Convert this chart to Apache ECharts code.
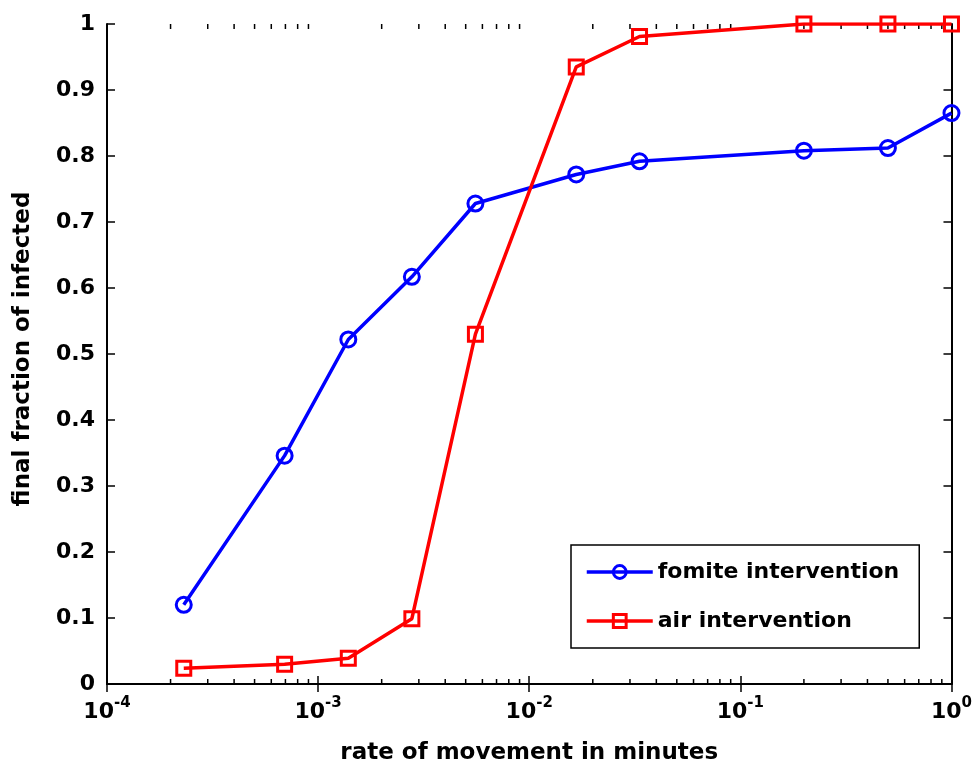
<!DOCTYPE html>
<html>
<head>
<meta charset="utf-8">
<script src="https://cdn.jsdelivr.net/npm/echarts@6/dist/echarts.min.js"></script>
<style>
  html, body { margin: 0; padding: 0; background: #fff; }
  #chart { width: 975px; height: 770px; }
</style>
</head>
<body>
<div id="chart"></div>
<script>
// rate of movement (per minute), log scale
const rates = [0.000231, 0.000694, 0.00139, 0.00278, 0.00556, 0.0167, 0.0333, 0.2, 0.5, 1];
const fomite = [0.12, 0.346, 0.522, 0.617, 0.728, 0.772, 0.792, 0.808, 0.812, 0.865];
const air = [0.024, 0.030, 0.039, 0.099, 0.530, 0.935, 0.981, 1.0, 1.0, 1.0];
const seriesNames = ["fomite intervention", "air intervention"];
const minorTicks = [
  0.0002, 0.0003, 0.0004, 0.0005, 0.0006, 0.0007, 0.0008, 0.0009,
  0.002, 0.003, 0.004, 0.005, 0.006, 0.007, 0.008, 0.009,
  0.02, 0.03, 0.04, 0.05, 0.06, 0.07, 0.08, 0.09,
  0.2, 0.3, 0.4, 0.5, 0.6, 0.7, 0.8, 0.9
];

const font = "'DejaVu Sans', Arial, sans-serif";

const pairs = (ys) => rates.map((x, i) => [x, ys[i]]);

const chart = echarts.init(document.getElementById("chart"));

const xLabel = {
  fontFamily: font,
  fontWeight: "bold",
  color: "#000",
  margin: 12,
  formatter: (v) => "{b|10}{s|" + Math.round(Math.log10(v)) + "}",
  rich: {
    b: { fontSize: 22, fontWeight: "bold", fontFamily: font, color: "#000", verticalAlign: "bottom" },
    s: { fontSize: 15, fontWeight: "bold", fontFamily: font, color: "#000", verticalAlign: "top", padding: [0, 0, 12, 0] }
  }
};

const frameAxis = {
  axisLine: { lineStyle: { color: "#000", width: 2 } },
  axisTick: { inside: true, length: 8, lineStyle: { color: "#000", width: 1.5 } },
  splitLine: { show: false }
};

chart.setOption({
  animation: false,
  backgroundColor: "#fff",
  grid: { left: 107, right: 22, top: 24, bottom: 82, containLabel: false },
  legend: {
    orient: "vertical",
    left: 571,
    top: 545,
    padding: [16, 20, 16, 14],
    itemWidth: 66,
    itemHeight: 16,
    itemGap: 27,
    backgroundColor: "#fff",
    borderColor: "#000",
    borderWidth: 1.5,
    lineStyle: { width: 3.5 },
    itemStyle: { borderWidth: 3 },
    textStyle: { fontFamily: font, fontWeight: "bold", fontSize: 22, color: "#000" },
    data: seriesNames
  },
  xAxis: [
    Object.assign({
      type: "log",
      logBase: 10,
      min: 0.0001,
      max: 1,
      name: "rate of movement in minutes",
      nameLocation: "middle",
      nameGap: 58,
      nameTextStyle: { fontFamily: font, fontWeight: "bold", fontSize: 23, color: "#000" },
      axisLabel: xLabel
    }, frameAxis),
    Object.assign({
      type: "log",
      logBase: 10,
      min: 0.0001,
      max: 1,
      position: "top",
      axisLabel: { show: false }
    }, frameAxis)
  ],
  yAxis: [
    Object.assign({
      type: "value",
      min: 0,
      max: 1,
      interval: 0.1,
      name: "final fraction of infected",
      nameLocation: "middle",
      nameGap: 72,
      nameTextStyle: { fontFamily: font, fontWeight: "bold", fontSize: 23, color: "#000", padding: [0, 0, 0, 10] },
      axisLabel: {
        fontFamily: font,
        fontWeight: "bold",
        fontSize: 22,
        color: "#000",
        margin: 12,
        formatter: (v) => String(Math.round(v * 10) / 10)
      }
    }, frameAxis),
    Object.assign({
      type: "value",
      min: 0,
      max: 1,
      interval: 0.1,
      position: "right",
      axisLabel: { show: false }
    }, frameAxis)
  ],
  series: [
    {
      name: seriesNames[0],
      type: "line",
      data: pairs(fomite),
      symbol: "circle",
      symbolSize: 15,
      lineStyle: { width: 3.5, color: "#0000ff" },
      itemStyle: { color: "rgba(0,0,0,0)", borderColor: "#0000ff", borderWidth: 3 },
      z: 3
    },
    {
      name: seriesNames[1],
      type: "line",
      data: pairs(air),
      symbol: "rect",
      symbolSize: 14,
      lineStyle: { width: 3.5, color: "#ff0000" },
      itemStyle: { color: "rgba(0,0,0,0)", borderColor: "#ff0000", borderWidth: 3 },
      z: 3
    },
    {
      // minor log ticks on top and bottom edges
      type: "custom",
      silent: true,
      data: minorTicks.map((v) => [v]),
      renderItem: (params, api) => {
        const v = api.value(0);
        const b = api.coord([v, 0]);
        const t = api.coord([v, 1]);
        const style = { stroke: "#000", lineWidth: 1.5 };
        return {
          type: "group",
          children: [
            { type: "line", shape: { x1: b[0], y1: b[1], x2: b[0], y2: b[1] - 5 }, style },
            { type: "line", shape: { x1: t[0], y1: t[1], x2: t[0], y2: t[1] + 5 }, style }
          ]
        };
      },
      z: 1
    }
  ]
});
</script>
</body>
</html>
